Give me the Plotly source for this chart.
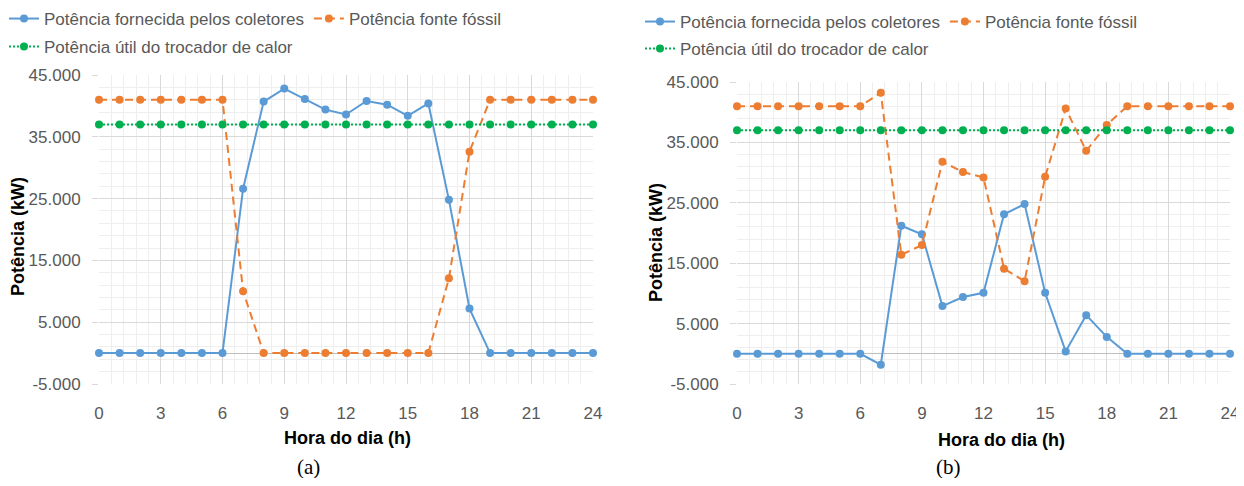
import plotly.graph_objects as go

hours = list(range(25))

# Chart (a)
coletores_a = [0, 0, 0, 0, 0, 0, 0, 26600, 40700, 42800, 41100, 39400, 38600,
               40800, 40200, 38400, 40400, 24800, 7200, 0, 0, 0, 0, 0, 0]
fossil_a = [41000, 41000, 41000, 41000, 41000, 41000, 41000, 10000, 0, 0, 0, 0, 0,
            0, 0, 0, 0, 12100, 32600, 41000, 41000, 41000, 41000, 41000, 41000]
trocador_a = [37000] * 25

# Chart (b)
coletores_b = [0, 0, 0, 0, 0, 0, 0, -1800, 21200, 19800, 7900, 9400, 10100,
               23100, 24800, 10100, 400, 6400, 2800, 0, 0, 0, 0, 0, 0]
fossil_b = [41000, 41000, 41000, 41000, 41000, 41000, 41000, 43200, 16400, 18000,
            31800, 30100, 29200, 14100, 12000, 29300, 40600, 33600, 37900,
            41000, 41000, 41000, 41000, 41000, 41000]
trocador_b = [37000] * 25

series_names = ["Potência fornecida pelos coletores", "Potência fonte fóssil",
                "Potência útil do trocador de calor"]
y_tickvals = [-5000, 5000, 15000, 25000, 35000, 45000]
y_ticktext = ["-5.000", "5.000", "15.000", "25.000", "35.000", "45.000"]
x_tickvals = [0, 3, 6, 9, 12, 15, 18, 21, 24]
x_title = "Hora do dia (h)"
y_title = "Potência (kW)"
captions = ["(a)", "(b)"]

BLUE = "#5B9BD5"
ORANGE = "#ED7D31"
GREEN = "#00B050"
OFF = 8  # page body margin offset
W, H = 1244 - OFF, 486 - 2 * OFF


def px(x):
    return (x - OFF) / W


def py(y):
    return 1 - (y - OFF) / H


fig = go.Figure()


def add_set(coll, foss, troc, xa, ya, leg_top, leg_bot):
    fig.add_trace(go.Scatter(x=hours, y=coll, name=series_names[0], mode="lines+markers",
                             line=dict(color=BLUE, width=2), marker=dict(size=8, color=BLUE),
                             xaxis=xa, yaxis=ya, legend=leg_top, cliponaxis=False))
    fig.add_trace(go.Scatter(x=hours, y=foss, name=series_names[1], mode="lines+markers",
                             line=dict(color=ORANGE, width=2, dash="8px,5px"),
                             marker=dict(size=8, color=ORANGE),
                             xaxis=xa, yaxis=ya, legend=leg_top, cliponaxis=False))
    fig.add_trace(go.Scatter(x=hours, y=troc, name=series_names[2], mode="lines+markers",
                             line=dict(color=GREEN, width=2, dash="2px,2px"),
                             marker=dict(size=8, color=GREEN),
                             xaxis=xa, yaxis=ya, legend=leg_bot, cliponaxis=False))


add_set(coletores_a, fossil_a, trocador_a, "x", "y", "legend", "legend2")
add_set(coletores_b, fossil_b, trocador_b, "x2", "y2", "legend3", "legend4")


def xaxis_style(x0, x1, anchor):
    return dict(domain=[px(x0), px(x1)], anchor=anchor, range=[0, 24], tickmode="array",
                tickvals=x_tickvals, showgrid=True, gridcolor="#d9d9d9", gridwidth=1,
                minor=dict(tick0=0, dtick=0.6, showgrid=True, gridcolor="#eeeeee", gridwidth=1),
                zeroline=False, showline=False, ticks="", automargin=False,
                ticklabelstandoff=17, ticklabeloverflow="allow",
                tickfont=dict(family="Liberation Sans", size=17, color="#595959"))


def yaxis_style(y_top, y_bot, anchor):
    return dict(domain=[py(y_bot), py(y_top)], anchor=anchor, range=[-5000, 45000],
                tickmode="array", tickvals=y_tickvals, ticktext=y_ticktext, showgrid=True,
                gridcolor="#d9d9d9", gridwidth=1,
                minor=dict(tick0=-5000, dtick=2000, showgrid=True, gridcolor="#eeeeee", gridwidth=1),
                zeroline=True, zerolinecolor="#bfbfbf", zerolinewidth=1,
                showline=False, ticks="outside", ticklen=6, tickcolor="#d9d9d9",
                automargin=False, ticklabelstandoff=8,
                tickfont=dict(family="Liberation Sans", size=17, color="#595959"))


fig.update_layout(
    width=W, height=H, margin=dict(l=0, r=0, t=0, b=0, autoexpand=False),
    paper_bgcolor="white", plot_bgcolor="white", showlegend=True,
    xaxis=xaxis_style(99, 593, "y"),
    yaxis=yaxis_style(75, 384, "x"),
    xaxis2=xaxis_style(737, 1230, "y2"),
    yaxis2=yaxis_style(82, 384, "x2"),
)

leg_font = dict(family="Liberation Sans", size=17, color="#595959")


def leg(x, y):
    return dict(orientation="h", x=px(x + OFF), y=py(y + OFF), xanchor="left", yanchor="top",
                bgcolor="rgba(0,0,0,0)", borderwidth=0, font=leg_font)


fig.update_layout(legend=leg(-4, -7), legend2=leg(-4, 21),
                  legend3=leg(632, -4), legend4=leg(632, 23))

ann = []
ann.append(dict(text=f"<b>{x_title}</b>", x=px(347), y=py(438)))
ann.append(dict(text=f"<b>{x_title}</b>", x=px(1001), y=py(440)))
ann.append(dict(text=f"<b>{y_title}</b>", x=px(18), y=py(237), textangle=-90))
ann.append(dict(text=f"<b>{y_title}</b>", x=px(656), y=py(243), textangle=-90))
for a in ann:
    a.update(xref="paper", yref="paper", showarrow=False, xanchor="center", yanchor="middle",
             font=dict(family="Liberation Sans", size=18, color="black"))
for cap, cx in zip(captions, [308, 948]):
    ann.append(dict(text=cap, x=px(cx), y=py(467), xref="paper", yref="paper",
                    showarrow=False, xanchor="center", yanchor="middle",
                    font=dict(family="Liberation Serif", size=21, color="black")))
fig.update_layout(annotations=ann)

fig.write_html("out.html")
